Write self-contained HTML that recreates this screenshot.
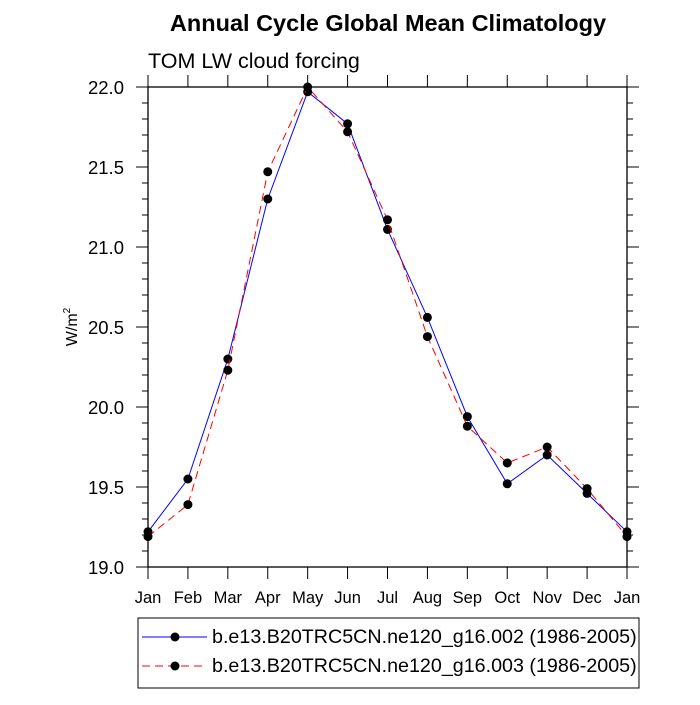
<!DOCTYPE html>
<html><head><meta charset="utf-8"><style>
body{margin:0;background:#fff;}
text{font-family:"Liberation Sans",Arial,sans-serif;}
</style></head><body>
<svg id="chart" width="700" height="700" xmlns="http://www.w3.org/2000/svg">
<text x="388" y="31" text-anchor="middle" font-size="23.5" font-weight="bold">Annual Cycle Global Mean Climatology</text>
<text x="148" y="68" font-size="21.5">TOM LW cloud forcing</text>
<text transform="translate(77,327) rotate(-90)" text-anchor="middle" font-size="16">W/m<tspan font-size="10" dy="-7">2</tspan></text>
<g id="axes"></g>
<g id="series"></g>
<rect x="138" y="618" width="501" height="70" fill="none" stroke="#000" stroke-width="1"/>
<g>
<line x1="142" y1="637" x2="207" y2="637" stroke="#00f" stroke-width="1"/>
<circle cx="175" cy="637" r="4.5" fill="#000"/>
<text x="212" y="643" font-size="19.7">b.e13.B20TRC5CN.ne120_g16.002 (1986-2005)</text>
</g>
<g>
<line x1="142" y1="666" x2="207" y2="666" stroke="#f00" stroke-width="1" stroke-dasharray="8,5"/>
<circle cx="175" cy="666" r="4.5" fill="#000"/>
<text x="212" y="672" font-size="19.7">b.e13.B20TRC5CN.ne120_g16.003 (1986-2005)</text>
</g>
</svg>
<script>
const months=["Jan","Feb","Mar","Apr","May","Jun","Jul","Aug","Sep","Oct","Nov","Dec","Jan"];
const series002=[19.22,19.55,20.30,21.30,21.97,21.77,21.11,20.56,19.94,19.52,19.70,19.46,19.22];
const series003=[19.19,19.39,20.23,21.47,22.00,21.72,21.17,20.44,19.88,19.65,19.75,19.49,19.19];
const yTicks=[19.0,19.5,20.0,20.5,21.0,21.5,22.0];
const X0=148,X1=627,Y0=567,Y1=87,YMIN=19,YMAX=22;
const xs=i=>X0+(X1-X0)*i/12;
const ys=v=>Y0-(v-YMIN)/(YMAX-YMIN)*(Y0-Y1);
const NS="http://www.w3.org/2000/svg";
function mk(tag,attrs,parent){const e=document.createElementNS(NS,tag);for(const k in attrs)e.setAttribute(k,attrs[k]);parent.appendChild(e);return e;}
const ax=document.getElementById('axes');
const frame=mk('rect',{x:X0,y:Y1,width:X1-X0,height:Y0-Y1,fill:'none',stroke:'#000','stroke-width':1.3},ax);


for(let k=0;k<=30;k++){
 const v=YMIN+k*0.1,y=ys(v),major=k%5===0,L=major?12:6;
 mk('line',{x1:X0-L,y1:y,x2:X0,y2:y,stroke:'#000'},ax);
 mk('line',{x1:X1,y1:y,x2:X1+L,y2:y,stroke:'#000'},ax);
}
yTicks.forEach(v=>{
 const t=mk('text',{x:X0-24,y:ys(v)+7,'text-anchor':'end','font-size':18.5},ax);
 t.textContent=v.toFixed(1);
 
 
});
months.forEach((m,i)=>{
 const x=xs(i);
 mk('line',{x1:x,y1:Y0,x2:x,y2:Y0+12,stroke:'#000'},ax);
 mk('line',{x1:x,y1:Y1-12,x2:x,y2:Y1,stroke:'#000'},ax);
 const t=mk('text',{x:x,y:Y0+36,'text-anchor':'middle','font-size':16.5},ax);
 t.textContent=m;
 
 
});
const sg=document.getElementById('series');
function draw(vals,color,dash,name){
 const g=mk('g',{},sg);
 
 
 const a={points:vals.map((v,i)=>xs(i)+','+ys(v)).join(' '),fill:'none',stroke:color,'stroke-width':1};
 if(dash)a['stroke-dasharray']=dash;
 mk('polyline',a,g);
 vals.forEach((v,i)=>{
  const c=mk('circle',{cx:xs(i),cy:ys(v),r:4.5,fill:'#000'},g);
  
  
 });
}
draw(series002,'#00f',null,'series-002');
draw(series003,'#f00','8,5','series-003');
</script>
</body></html>
